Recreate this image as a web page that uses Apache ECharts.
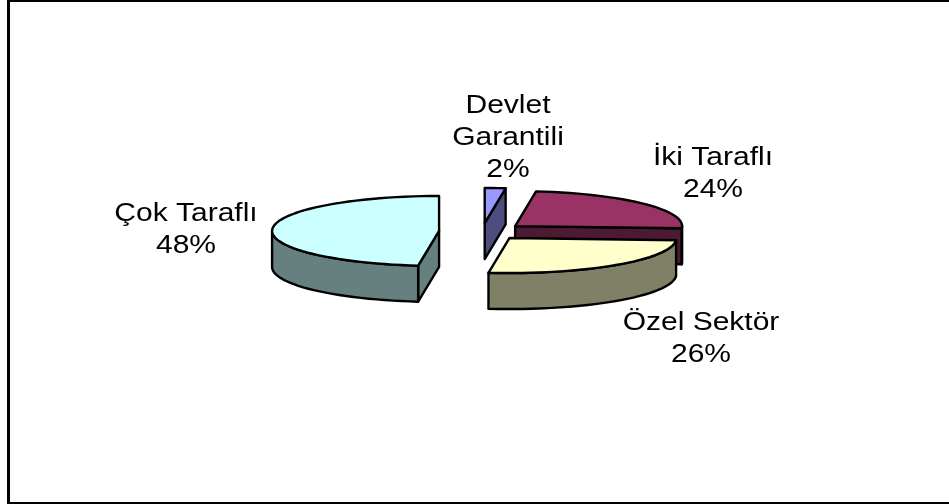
<!DOCTYPE html>
<html><head><meta charset="utf-8">
<style>html,body{margin:0;padding:0;background:#fff}#c{width:949px;height:504px}</style>
<script src="https://cdn.jsdelivr.net/npm/echarts@6/dist/echarts.min.js"></script>
</head><body><div id="c"></div>
<script>
const categories = ['Devlet\nGarantili', 'İki Taraflı', 'Özel Sektör', 'Çok Taraflı'];
const shares = [2, 24, 26, 48];
const topColors = ['#9999ff', '#993366', '#ffffcc', '#ccffff'];
const sideColors = ['#4d4d80', '#4d1a33', '#808066', '#668080'];

// Layout of the tilted, exploded pie
const CX = 482, CY = 231.5, RX = 167, RY = 35, DEPTH = 36;
const EXPLODE_X = 43, EXPLODE_Y = 8.5, FONT_STRETCH = 1.2, LINE_H = 32;
const labelCentres = [[508, 106], [713, 158], [701, 323], [186, 214]];
const total = shares.reduce((a, b) => a + b, 0);

function deg(v) { return v * Math.PI / 180; }
function arc(c, a, b, dy) {
  const n = Math.max(2, Math.ceil(Math.abs(b - a) / 3)), pts = [];
  for (let i = 0; i <= n; i++) {
    const t = deg(a + (b - a) * i / n);
    pts.push([c[0] + RX * Math.sin(t), c[1] - RY * Math.cos(t) + dy]);
  }
  return pts;
}
function renderSlice(params, api) {
  const i = params.dataIndex;
  let before = 0;
  for (let k = 0; k < i; k++) before += shares[k];
  const a = before / total * 360, b = (before + api.value(1)) / total * 360;
  const mid = deg((a + b) / 2);
  const c = [CX + EXPLODE_X * Math.sin(mid), CY - EXPLODE_Y * Math.cos(mid)];
  const line = { stroke: '#000', lineWidth: 2.4, lineJoin: 'round' };
  const poly = (points, fill) => ({ type: 'polygon', shape: { points }, style: Object.assign({ fill }, line) });
  const kids = [];
  const face = ang => {
    const p = arc(c, ang, ang, 0)[0];
    kids.push(poly([c, p, [p[0], p[1] + DEPTH], [c[0], c[1] + DEPTH]], sideColors[i]));
  };
  if (Math.sin(deg(b)) > 0.001) face(b);
  if (Math.sin(deg(a)) < -0.001) face(a);
  const wa = Math.max(a, 90), wb = Math.min(b, 270);
  if (wb > wa) {
    kids.push(poly(arc(c, wa, wb, 0).concat(arc(c, wa, wb, DEPTH).reverse()), sideColors[i]));
  }
  kids.push(poly([c].concat(arc(c, a, b, 0)), topColors[i]));
  const lines = (categories[i] + '\n' + api.value(1) + '%').split('\n');
  lines.forEach((t, k) => kids.push({
    type: 'text', x: labelCentres[i][0], y: labelCentres[i][1] + k * LINE_H, scaleX: FONT_STRETCH, z2: 10,
    style: { text: t, font: '25px "Liberation Sans", Arial, sans-serif', fill: '#000', align: 'center', verticalAlign: 'middle' }
  }));
  return { type: 'group', children: kids };
}
const chart = echarts.init(document.getElementById('c'), null, { renderer: 'canvas' });
chart.setOption({
  animation: false,
  backgroundColor: '#ffffff',
  graphic: [
    { type: 'rect', shape: { x: 7, y: 0, width: 3, height: 504 }, style: { fill: '#000' } },
    { type: 'rect', shape: { x: 7, y: 0, width: 942, height: 2 }, style: { fill: '#000' } },
    { type: 'rect', shape: { x: 7, y: 502, width: 942, height: 2 }, style: { fill: '#000' } }
  ],
  series: [{
    type: 'custom',
    coordinateSystem: 'none',
    renderItem: renderSlice,
    data: shares.map((v, i) => [i, v])
  }]
});
</script></body></html>
